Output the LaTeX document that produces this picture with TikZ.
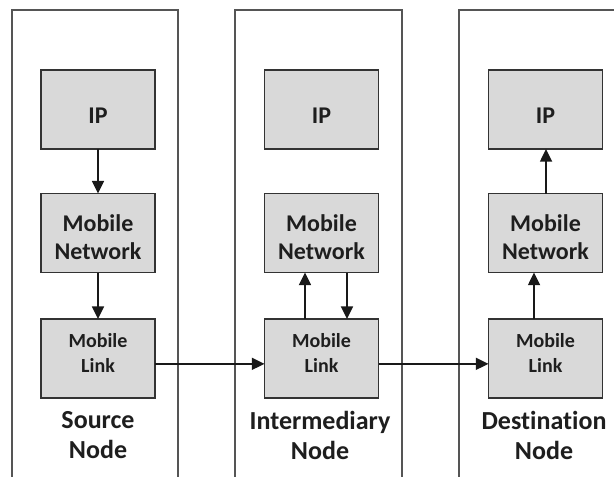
\documentclass[tikz,border=0pt]{standalone}
\usepackage{fontspec}
\setmainfont{Carlito}[Ligatures=CommonOff]
\usetikzlibrary{arrows.meta}
\definecolor{boxfill}{HTML}{D9D9D9}
\definecolor{boxline}{HTML}{333333}
\definecolor{colline}{HTML}{555555}
\definecolor{ink}{HTML}{1E1E1E}
\begin{document}
\begin{tikzpicture}[x=0.75pt,y=-0.75pt,
  column/.style={draw=colline,line width=0.9pt,fill=white,minimum width=#1,minimum height=367.5pt,inner sep=0pt,outer sep=0pt},
  layerbox/.style={draw=boxline,line width=1.3pt,fill=boxfill,minimum width=85.5pt,minimum height=59.25pt,inner sep=0pt,outer sep=0pt},
  boxtext/.style={inner sep=0pt,align=center,text=ink},
  iptext/.style={boxtext,font=\fontsize{18}{21}\selectfont\bfseries},
  nettext/.style={boxtext,font=\fontsize{18}{21}\selectfont\bfseries},
  linktext/.style={boxtext,font=\fontsize{15}{18.75}\selectfont\bfseries},
  nodelabel/.style={inner sep=0pt,align=center,text=ink,font=\fontsize{19.5}{22.5}\selectfont\bfseries},
  flow/.style={line width=1.3pt,draw=black!90,-{Triangle[length=9.5pt,width=9pt]}},
  hop/.style={line width=1.1pt,draw=black!90,-{Triangle[length=9.5pt,width=9pt]}}]
\path[use as bounding box,clip] (0,0) rectangle (614,476);

% protocol stack columns
\node[column=124.5pt] (colA) at (95,255) {};
\node[column=125.25pt] (colB) at (318.5,255) {};
\node[column=135.75pt] (colC) at (549.5,255) {};
\draw[colline,line width=1.6pt] (colA.north east) -- (colA.south east);
\draw[colline,line width=1.6pt] (colB.north east) -- (colB.south east);

% source node stack
\node[layerbox] (ipA) at (98,109.5) {};
\node[layerbox] (netA) at (98,233) {};
\node[layerbox] (linkA) at (98,358.5) {};
\node[iptext] (ipAt) at (98,116) {IP};
\node[nettext] (netAt) at (98,237) {Mobile\\Network};
\node[linktext] (linkAt) at (98,353) {Mobile\\Link};
\node[nodelabel] (labA) at (98,435.5) {Source\\Node};

% intermediary node stack
\node[layerbox] (ipB) at (321.5,109.5) {};
\node[layerbox] (netB) at (321.5,233) {};
\node[layerbox] (linkB) at (321.5,358.5) {};
\node[iptext] (ipBt) at (321.5,116) {IP};
\node[nettext] (netBt) at (321.5,237) {Mobile\\Network};
\node[linktext] (linkBt) at (321.5,353) {Mobile\\Link};
\node[nodelabel] (labB) at (320,435.5) {Intermediary\\Node};

% destination node stack
\node[layerbox] (ipC) at (545.5,109.5) {};
\node[layerbox] (netC) at (545.5,233) {};
\node[layerbox] (linkC) at (545.5,358.5) {};
\node[iptext] (ipCt) at (545.5,116) {IP};
\node[nettext] (netCt) at (545.5,237) {Mobile\\Network};
\node[linktext] (linkCt) at (545.5,353) {Mobile\\Link};
\node[nodelabel] (labC) at (544,435.5) {Destination\\Node};

% vertical flow inside each stack
\draw[flow] (ipA.south) -- (netA.north);
\draw[flow] (netA.south) -- (linkA.north);
\draw[flow] ([xshift=-12.4pt]linkB.north) -- ([xshift=-12.4pt]netB.south);
\draw[flow] ([xshift=19.1pt]netB.south) -- ([xshift=19.1pt]linkB.north);
\draw[flow] ([xshift=-8.6pt]linkC.north) -- ([xshift=-8.6pt]netC.south);
\draw[flow] ([xshift=0.4pt]netC.north) -- ([xshift=0.4pt]ipC.south);

% hops between nodes
\draw[hop] ([yshift=-4pt]linkA.east) -- ([yshift=-4pt]linkB.west);
\draw[hop] ([yshift=-4pt]linkB.east) -- ([yshift=-4pt]linkC.west);
\end{tikzpicture}
\end{document}
